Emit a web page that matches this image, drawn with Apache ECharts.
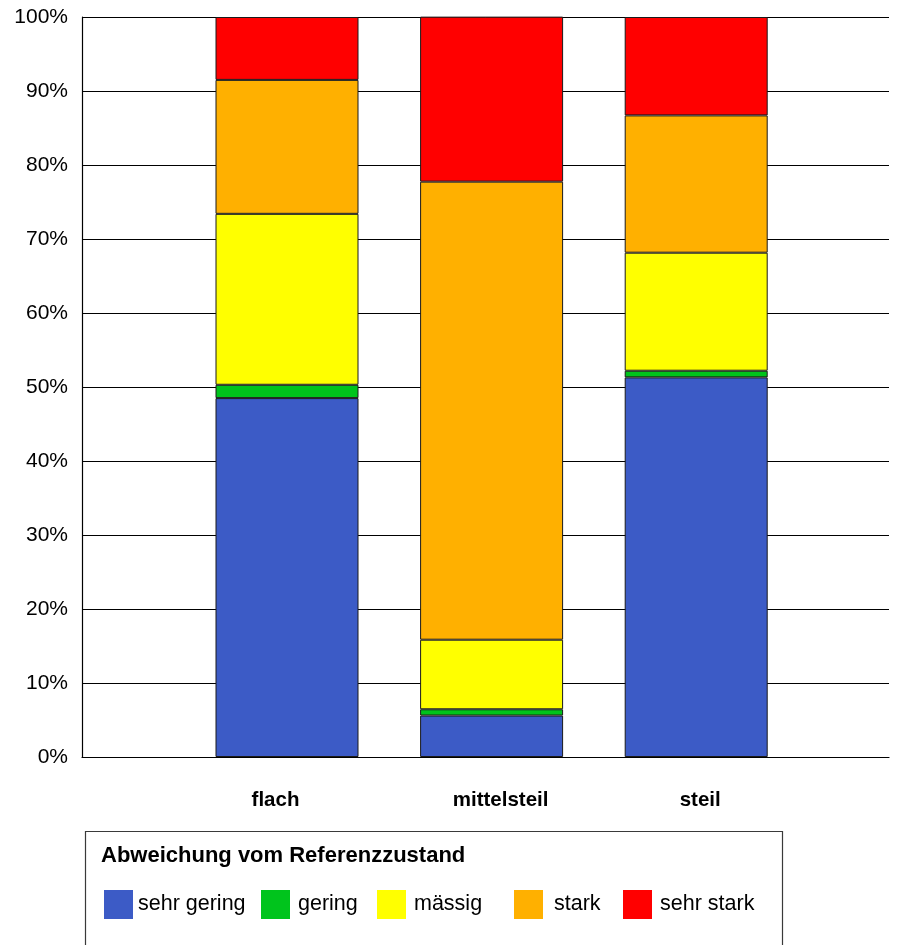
<!DOCTYPE html>
<html>
<head>
<meta charset="utf-8">
<script src="https://cdn.jsdelivr.net/npm/echarts@6/dist/echarts.min.js"></script>
<style>
  html, body { margin: 0; padding: 0; background: #ffffff; }
  #chart { width: 897px; height: 945px; }
</style>
</head>
<body>
<div id="chart"></div>
<script>
// Hangneigungsklassen
const categories = ['flach', 'mittelsteil', 'steil'];

// Anteile (%) je Abweichungsklasse
const sehrGering = [48.5, 5.6, 51.3];
const gering     = [1.8, 0.85, 0.9];
const maessig    = [23.1, 9.4, 15.95];
const stark      = [18.1, 61.9, 18.55];
const sehrStark  = [8.5, 22.3, 13.3];

const seriesNames = ['sehr gering', 'gering', 'mässig', 'stark', 'sehr stark'];
const seriesData = [sehrGering, gering, maessig, stark, sehrStark];
const seriesColors = ['#3C5BC6', '#00C41C', '#FFFF00', '#FFB000', '#FF0000'];

const yTicks = [0, 10, 20, 30, 40, 50, 60, 70, 80, 90, 100];

const FONT = '"Liberation Sans", Arial, sans-serif';

// Kategorie-Beschriftungen leicht versetzt
const labelPad = [[0, 23, 0, 0], [0, 0, 0, 18], [0, 0, 0, 8]];

const chart = echarts.init(document.getElementById('chart'), null, { renderer: 'canvas' });

const legendLefts = [104, 261, 377, 514, 623];
const legendTextPad = [0, 3, 3, 6, 3];

const option = {
  backgroundColor: '#ffffff',
  animation: false,
  textStyle: { fontFamily: FONT },
  title: {
    text: 'Abweichung vom Referenzzustand',
    left: 101,
    top: 845,
    padding: 0,
    textStyle: { fontFamily: FONT, fontSize: 22, fontWeight: 'bold', color: '#000' }
  },
  legend: seriesNames.map((n, i) => ({
    data: [n],
    left: legendLefts[i],
    top: 890,
    padding: 0,
    itemWidth: 29,
    itemHeight: 29,
    icon: 'rect',
    itemStyle: { borderWidth: 0 },
    selectedMode: false,
    textStyle: { fontFamily: FONT, fontSize: 21.5, color: '#000', padding: [2, 0, 0, legendTextPad[i]] }
  })),
  graphic: [{
    type: 'rect',
    shape: { x: 85.5, y: 831.5, width: 697, height: 140 },
    style: { fill: 'none', stroke: '#3a3a3a', lineWidth: 1.2 },
    z: -1
  }],
  grid: [
    { left: 82, right: 8, top: 17, bottom: 188 },
    { left: 184.7, right: 98.5, top: 17, bottom: 188 }
  ],
  xAxis: [
    {
      type: 'value', gridIndex: 0, min: 0, max: 1,
      axisLine: { show: true, lineStyle: { color: '#000', width: 1.2 } },
      axisTick: { show: false }, axisLabel: { show: false }, splitLine: { show: false }
    },
    {
      type: 'category', gridIndex: 1,
      data: categories.map((c, i) => ({ value: c, textStyle: { padding: labelPad[i] } })),
      axisLine: { show: false }, axisTick: { show: false },
      axisLabel: { fontFamily: FONT, fontSize: 20.5, fontWeight: 'bold', color: '#000', margin: 33 }
    }
  ],
  yAxis: [
    {
      type: 'value', gridIndex: 0, min: yTicks[0], max: yTicks[yTicks.length - 1], interval: 10,
      axisLine: { show: true, lineStyle: { color: '#000', width: 1.2 } },
      axisTick: { show: false },
      axisLabel: { formatter: '{value}%', fontFamily: FONT, fontSize: 21, color: '#000', margin: 14 },
      splitLine: { show: true, lineStyle: { color: '#000', width: 1 } }
    },
    {
      type: 'value', gridIndex: 1, min: 0, max: 100,
      show: false, splitLine: { show: false }
    }
  ],
  series: seriesNames.map((n, i) => ({
    name: n,
    type: 'bar',
    stack: 'anteil',
    xAxisIndex: 1,
    yAxisIndex: 1,
    barWidth: 143,
    data: seriesData[i],
    itemStyle: { color: seriesColors[i], borderColor: '#1a1a1a', borderWidth: 1 }
  }))
};

chart.setOption(option);
</script>
</body>
</html>
